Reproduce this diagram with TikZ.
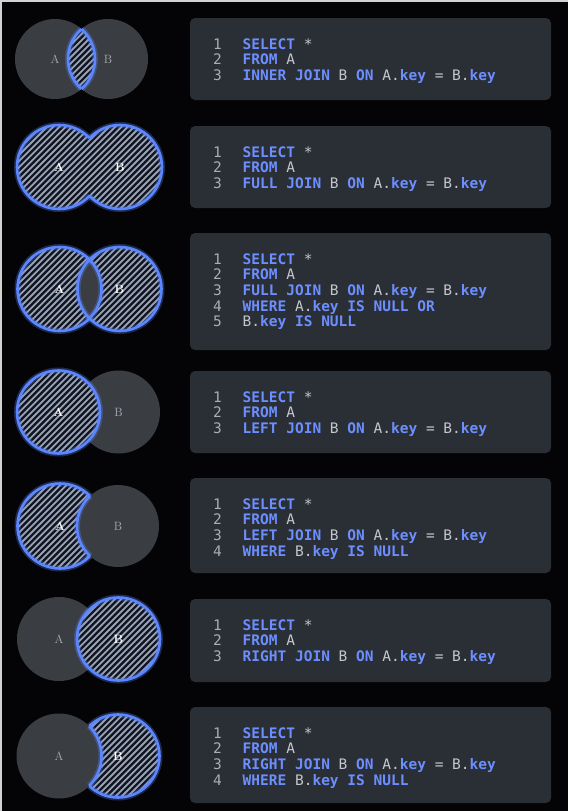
\documentclass[tikz,border=0pt]{standalone}
\usepackage{fontspec}
\setmonofont{DejaVu Sans Mono}

\definecolor{page}{RGB}{4,4,6}
\definecolor{panel}{RGB}{42,46,53}
\definecolor{disc}{RGB}{58,61,66}
\definecolor{kwblue}{RGB}{108,142,255}
\definecolor{plain}{RGB}{196,200,206}
\definecolor{lnum}{RGB}{170,174,180}
\definecolor{ringblue}{RGB}{92,134,255}
\definecolor{hatchbg}{RGB}{16,20,32}
\definecolor{hatchln}{RGB}{152,162,178}

\newcommand\kw[1]{\textbf{\color{kwblue}#1}}

\tikzset{
  code/.style={font=\ttfamily\fontsize{14.5}{15.7}\selectfont, text=plain,
    anchor=base west, inner sep=0pt},
  lineno/.style={code, text=lnum},
  ring/.style={draw=ringblue, line width=2.6pt,
    preaction={draw=ringblue, draw opacity=0.3, line width=6pt}},
  setlabel/.style={font=\rmfamily\fontsize{12}{12}\selectfont, text=lnum, inner sep=0pt},
  setlabelon/.style={font=\rmfamily\bfseries\fontsize{12}{12}\selectfont, text=white, inner sep=0pt},
}

% stripes across one row, to be clipped
\newcommand\hatchrow[1]{%
  \fill[hatchbg] (5,#1-55) rectangle (180,#1+55);
  \foreach \s in {-110,-103.8,...,180}
    \draw[hatchln, line width=1.8pt] (\s,#1+55) -- ++(110,-110);}

% code panel: #1 name, #2 top, #3 bottom, #4 lines
\newcommand\sqlpanel[4]{%
  \fill[panel, rounded corners=5pt] (190,#2) rectangle (551,#3);
  \foreach \t [count=\i] in {#4}{
    \node[lineno] (n#1-\i) at (213,{#2+31+(\i-1)*15.7}) {\i};
    \node[code] (q#1-\i) at (242.5,{#2+31+(\i-1)*15.7}) {\t};}}

\begin{document}
\begin{tikzpicture}[x=1pt,y=-1pt]
  \useasboundingbox (0,0) rectangle (568,811);
  \fill[gray!35] (0,0) rectangle (568,811);
  \fill[page] (1.5,2) rectangle (568,811);

  % inner join
  \coordinate (ca1) at (55,59);
  \coordinate (cb1) at (108,59);
  \fill[disc] (ca1) circle[radius=40pt] (cb1) circle[radius=40pt];
  \begin{scope}
    \clip (ca1) circle[radius=40pt];
    \clip (cb1) circle[radius=40pt];
    \hatchrow{59}
  \end{scope}
  \begin{scope}
    \clip (ca1) circle[radius=40pt];
    \draw[ring] (cb1) circle[radius=40pt];
  \end{scope}
  \begin{scope}
    \clip (cb1) circle[radius=40pt];
    \draw[ring] (ca1) circle[radius=40pt];
  \end{scope}
  \node[setlabel] (la1) at (ca1) {A};
  \node[setlabel] (lb1) at (cb1) {B};
  \sqlpanel{1}{18}{100}{{\kw{SELECT} *},{\kw{FROM} A},
    {\kw{INNER JOIN} B \kw{ON} A.\kw{key} = B.\kw{key}}}

  % full join
  \coordinate (ca2) at (59,167);
  \coordinate (cb2) at (120,167);
  \begin{scope}
    \clip (ca2) circle[radius=42pt] (cb2) circle[radius=42pt];
    \hatchrow{167}
  \end{scope}
  \begin{scope}[even odd rule]
    \clip (0,110) rectangle (185,225) (cb2) circle[radius=42pt];
    \draw[ring] (ca2) circle[radius=42pt];
  \end{scope}
  \begin{scope}[even odd rule]
    \clip (0,110) rectangle (185,225) (ca2) circle[radius=42pt];
    \draw[ring] (cb2) circle[radius=42pt];
  \end{scope}
  \node[setlabelon] (la2) at (ca2) {A};
  \node[setlabelon] (lb2) at (cb2) {B};
  \sqlpanel{2}{126}{208}{{\kw{SELECT} *},{\kw{FROM} A},
    {\kw{FULL JOIN} B \kw{ON} A.\kw{key} = B.\kw{key}}}

  % full join without the overlap
  \coordinate (ca3) at (59.5,289);
  \coordinate (cb3) at (119.5,289);
  \begin{scope}
    \clip (ca3) circle[radius=42pt] (cb3) circle[radius=42pt];
    \hatchrow{289}
  \end{scope}
  \begin{scope}
    \clip (ca3) circle[radius=42pt];
    \fill[disc] (cb3) circle[radius=42pt];
  \end{scope}
  \draw[ring] (ca3) circle[radius=42pt];
  \draw[ring] (cb3) circle[radius=42pt];
  \node[setlabelon] (la3) at (ca3) {A};
  \node[setlabelon] (lb3) at (cb3) {B};
  \sqlpanel{3}{233}{350}{{\kw{SELECT} *},{\kw{FROM} A},
    {\kw{FULL JOIN} B \kw{ON} A.\kw{key} = B.\kw{key}},
    {\kw{WHERE} A.\kw{key IS NULL OR}},{B.\kw{key IS NULL}}}

  % left join
  \coordinate (ca4) at (58.5,412);
  \coordinate (cb4) at (118.5,412);
  \fill[disc] (cb4) circle[radius=41.5pt];
  \begin{scope}
    \clip (ca4) circle[radius=41.5pt];
    \hatchrow{412}
  \end{scope}
  \draw[ring] (ca4) circle[radius=41.5pt];
  \node[setlabelon] (la4) at (ca4) {A};
  \node[setlabel] (lb4) at (cb4) {B};
  \sqlpanel{4}{371}{453}{{\kw{SELECT} *},{\kw{FROM} A},
    {\kw{LEFT JOIN} B \kw{ON} A.\kw{key} = B.\kw{key}}}

  % left join, only A
  \coordinate (ca5) at (60,526);
  \coordinate (cb5) at (118,526);
  \begin{scope}
    \clip (ca5) circle[radius=42.5pt];
    \hatchrow{526}
  \end{scope}
  \draw[ring] (ca5) circle[radius=42.5pt];
  \fill[disc] (cb5) circle[radius=41pt];
  \begin{scope}
    \clip (ca5) circle[radius=42.5pt];
    \draw[ring] (cb5) circle[radius=41pt];
  \end{scope}
  \node[setlabelon] (la5) at (ca5) {A};
  \node[setlabel] (lb5) at (cb5) {B};
  \sqlpanel{5}{478}{573}{{\kw{SELECT} *},{\kw{FROM} A},
    {\kw{LEFT JOIN} B \kw{ON} A.\kw{key} = B.\kw{key}},
    {\kw{WHERE} B.\kw{key IS NULL}}}

  % right join
  \coordinate (ca6) at (59,639);
  \coordinate (cb6) at (118.5,639);
  \fill[disc] (ca6) circle[radius=42pt];
  \begin{scope}
    \clip (cb6) circle[radius=41.5pt];
    \hatchrow{639}
  \end{scope}
  \draw[ring] (cb6) circle[radius=41.5pt];
  \node[setlabel] (la6) at (ca6) {A};
  \node[setlabelon] (lb6) at (cb6) {B};
  \sqlpanel{6}{599}{682}{{\kw{SELECT} *},{\kw{FROM} A},
    {\kw{RIGHT JOIN} B \kw{ON} A.\kw{key} = B.\kw{key}}}

  % right join, only B
  \coordinate (ca7) at (59,756);
  \coordinate (cb7) at (118,756);
  \begin{scope}
    \clip (cb7) circle[radius=41.5pt];
    \hatchrow{756}
  \end{scope}
  \draw[ring] (cb7) circle[radius=41.5pt];
  \fill[disc] (ca7) circle[radius=42.5pt];
  \begin{scope}
    \clip (cb7) circle[radius=41.5pt];
    \draw[ring] (ca7) circle[radius=42.5pt];
  \end{scope}
  \node[setlabel] (la7) at (ca7) {A};
  \node[setlabelon] (lb7) at (cb7) {B};
  \sqlpanel{7}{707}{803}{{\kw{SELECT} *},{\kw{FROM} A},
    {\kw{RIGHT JOIN} B \kw{ON} A.\kw{key} = B.\kw{key}},
    {\kw{WHERE} B.\kw{key IS NULL}}}
\end{tikzpicture}
\end{document}
